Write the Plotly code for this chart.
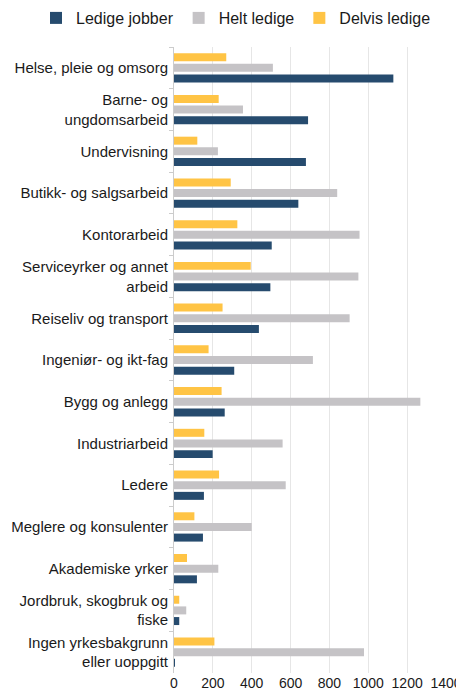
import plotly.graph_objects as go

categories = [
    "Helse, pleie og omsorg",
    "Barne- og<br>ungdomsarbeid",
    "Undervisning",
    "Butikk- og salgsarbeid",
    "Kontorarbeid",
    "Serviceyrker og annet<br>arbeid",
    "Reiseliv og transport",
    "Ingeniør- og ikt-fag",
    "Bygg og anlegg",
    "Industriarbeid",
    "Ledere",
    "Meglere og konsulenter",
    "Akademiske yrker",
    "Jordbruk, skogbruk og<br>fiske",
    "Ingen yrkesbakgrunn<br>eller uoppgitt",
]

ledige_jobber = [1129, 690, 679, 640, 503, 496, 437, 310, 261, 199, 154, 149, 118, 27, 3]
helt_ledige = [509, 355, 226, 840, 955, 949, 904, 715, 1268, 559, 575, 400, 228, 63, 978]
delvis_ledige = [269, 230, 120, 292, 326, 395, 250, 178, 245, 156, 232, 105, 67, 27, 208]

x_ticks = [0, 200, 400, 600, 800, 1000, 1200, 1400]

series = [
    ("Delvis ledige", delvis_ledige, "#ffc445"),
    ("Helt ledige", helt_ledige, "#c5c3c6"),
    ("Ledige jobber", ledige_jobber, "#264b6e"),
]

fig = go.Figure()
for name, vals, color in series:
    fig.add_trace(go.Bar(
        y=categories, x=vals, name=name, orientation="h",
        marker=dict(color=color, line=dict(width=0)),
    ))

# page body adds an 8px offset, so the figure is 8px smaller on each axis
W, H = 456, 687
ML, MR, MT, MB = 166, 18, 39, 22
plot_w = W - ML - MR
plot_h = H - MT - MB

fig.update_layout(
    width=W, height=H,
    margin=dict(l=ML, r=MR, t=MT, b=MB, autoexpand=False),
    barmode="group", bargap=0.234, bargroupgap=0.25,
    plot_bgcolor="white", paper_bgcolor="white",
    font=dict(family="Liberation Sans, Arial, sans-serif", size=15, color="#1a1a1a"),
    legend=dict(
        orientation="h", traceorder="reversed",
        xref="paper", x=(28 - ML) / plot_w, xanchor="left",
        yref="paper", y=1 + (MT - 10) / plot_h, yanchor="middle",
        font=dict(size=16), itemwidth=30,
    ),
    showlegend=True,
)
fig.update_xaxes(
    range=[0, 1400], tickvals=x_ticks, ticktext=[str(v) for v in x_ticks],
    showgrid=True, gridcolor="#e6e6e6", gridwidth=1,
    zeroline=False, showline=False, ticks="",
    tickfont=dict(size=14), automargin=False, ticklabeloverflow="allow",
)
fig.update_yaxes(
    autorange="reversed", type="category",
    showline=True, linecolor="#cccccc", linewidth=1,
    ticks="outside", tickson="boundaries", ticklen=4, tickcolor="#cccccc",
    showgrid=False, zeroline=False, ticklabelstandoff=2,
    tickfont=dict(size=15), automargin=False,
)

fig.write_html("out.html")
